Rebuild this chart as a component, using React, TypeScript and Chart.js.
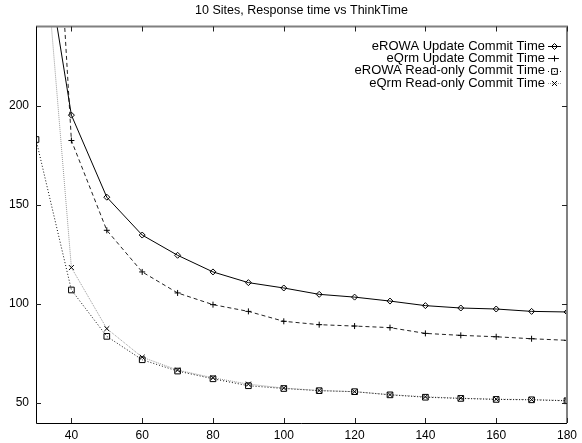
import React, { useEffect, useRef } from "react";
import { Chart, registerables } from "chart.js";
import { drawPoint } from "chart.js/helpers";

Chart.register(...registerables);

const titleText = "10 Sites, Response time vs ThinkTime";
const thinkTimes = [30, 40, 50, 60, 70, 80, 90, 100, 110, 120, 130, 140, 150, 160, 170, 180];
const erowaUpdate = [306, 195.3, 153.9, 134.8, 124.6, 116.2, 110.8, 108.1, 104.9, 103.5, 101.5, 99.2, 98.0, 97.5, 96.3, 96.0];
const eqrmUpdate = [486, 182.5, 137.2, 116.2, 105.6, 99.7, 96.3, 91.3, 89.6, 88.9, 88.1, 85.2, 84.2, 83.5, 82.5, 81.7];
const erowaReadOnly = [183.0, 107.1, 83.7, 71.9, 66.2, 62.3, 58.8, 57.4, 56.3, 55.8, 54.2, 53.0, 52.4, 51.9, 51.7, 51.2];
const eqrmReadOnly = [334, 118.4, 87.6, 73.2, 66.7, 62.8, 59.6, 57.6, 56.4, 55.8, 54.3, 53.2, 52.5, 52.0, 51.8, 51.3];
const seriesLabels = [
  "eROWA Update Commit Time",
  "eQrm Update Commit Time",
  "eROWA Read-only Commit Time",
  "eQrm Read-only Commit Time",
];
const xTickValues = [40, 60, 80, 100, 120, 140, 160, 180];
const yTickValues = [50, 100, 150, 200];

const FONT = "'Liberation Sans', Arial, Helvetica, sans-serif";

const toPoints = (ys: number[]) => thinkTimes.map((x, i) => ({ x, y: ys[i] }));

const framePlugin = {
  id: "gnuplotFrame",
  afterDraw(chart: any) {
    const { ctx, chartArea, scales } = chart;
    const { left, right, top, bottom } = chartArea;
    const xs = scales.x;
    const ys = scales.y;
    ctx.save();
    // frame
    ctx.setLineDash([]);
    ctx.strokeStyle = "#808080";
    ctx.lineWidth = 2;
    ctx.beginPath();
    ctx.moveTo(left, top);
    ctx.lineTo(right, top);
    ctx.lineTo(right, bottom);
    ctx.stroke();
    ctx.strokeStyle = "#000";
    ctx.lineWidth = 1;
    ctx.beginPath();
    ctx.moveTo(Math.round(left) + 0.5, top);
    ctx.lineTo(Math.round(left) + 0.5, Math.round(bottom) + 0.5);
    ctx.lineTo(right, Math.round(bottom) + 0.5);
    ctx.stroke();
    // inward ticks
    ctx.strokeStyle = "#222";
    ctx.beginPath();
    xTickValues.forEach((v) => {
      const px = Math.round(xs.getPixelForValue(v)) + 0.5;
      ctx.moveTo(px, bottom);
      ctx.lineTo(px, bottom - 5);
      ctx.moveTo(px, top);
      ctx.lineTo(px, top + 5);
    });
    yTickValues.forEach((v) => {
      const py = Math.round(ys.getPixelForValue(v)) + 0.5;
      ctx.moveTo(left, py);
      ctx.lineTo(left + 5, py);
      ctx.moveTo(right, py);
      ctx.lineTo(right - 5, py);
    });
    ctx.stroke();
    // legend
    ctx.font = "13px " + FONT;
    ctx.textAlign = "right";
    ctx.textBaseline = "middle";
    chart.data.datasets.forEach((ds: any, i: number) => {
      const y = 46 + i * 12.4;
      const ly = Math.round(y) + 0.5;
      ctx.fillStyle = "#000";
      ctx.fillText(ds.label, 545, y);
      ctx.strokeStyle = ds.borderColor;
      ctx.lineWidth = 1;
      ctx.setLineDash(ds.borderDash || []);
      ctx.beginPath();
      ctx.moveTo(548, ly);
      ctx.lineTo(561, ly);
      ctx.stroke();
      ctx.setLineDash([]);
      ctx.strokeStyle = ds.pointBorderColor;
      ctx.fillStyle = "rgba(0,0,0,0)";
      ctx.lineWidth = 1;
      drawPoint(ctx, { pointStyle: ds.pointStyle, radius: ds.pointRadius, borderWidth: 1, rotation: 0 }, 554.5, ly);
    });
    ctx.restore();
  },
};

export default function App() {
  const ref = useRef<HTMLCanvasElement>(null);
  useEffect(() => {
    document.body.style.margin = "0";
    const canvas = ref.current;
    if (!canvas) return;
    const chart = new Chart(canvas, {
      type: "scatter",
      data: {
        datasets: [
          {
            label: seriesLabels[0],
            data: toPoints(erowaUpdate),
            showLine: true,
            borderColor: "#000",
            borderWidth: 1,
            pointStyle: "rectRot",
            pointRadius: 3,
            pointBorderColor: "#000",
            pointBackgroundColor: "rgba(0,0,0,0)",
            pointBorderWidth: 1,
          },
          {
            label: seriesLabels[1],
            data: toPoints(eqrmUpdate),
            showLine: true,
            borderColor: "#222",
            borderWidth: 1,
            borderDash: [4, 3],
            pointStyle: "cross",
            pointRadius: 3,
            pointBorderColor: "#000",
            pointBackgroundColor: "rgba(0,0,0,0)",
            pointBorderWidth: 1,
          },
          {
            label: seriesLabels[2],
            data: toPoints(erowaReadOnly),
            showLine: true,
            borderColor: "#111",
            borderWidth: 1,
            borderDash: [1, 2],
            pointStyle: "rect",
            pointRadius: 4,
            pointBorderColor: "#000",
            pointBackgroundColor: "rgba(0,0,0,0)",
            pointBorderWidth: 1,
          },
          {
            label: seriesLabels[3],
            data: toPoints(eqrmReadOnly),
            showLine: true,
            borderColor: "#9a9a9a",
            borderWidth: 1,
            borderDash: [1, 1],
            pointStyle: "crossRot",
            pointRadius: 3.5,
            pointBorderColor: "#000",
            pointBackgroundColor: "rgba(0,0,0,0)",
            pointBorderWidth: 1,
          },
        ],
      },
      options: {
        responsive: false,
        animation: false,
        layout: { padding: { left: 0, right: 11, top: 0, bottom: 0 } },
        plugins: {
          legend: { display: false },
          tooltip: { enabled: false },
          title: {
            display: true,
            fullSize: false,
            text: titleText,
            color: "#000",
            font: { family: FONT, size: 12.5, weight: "normal" },
            padding: { top: 3, bottom: 8.5 },
          },
        },
        scales: {
          x: {
            type: "linear",
            min: 30,
            max: 180,
            grid: { display: false, drawTicks: false },
            border: { display: false },
            afterBuildTicks: (s: any) => {
              s.ticks = xTickValues.map((v) => ({ value: v }));
            },
            afterFit: (s: any) => {
              s.height = 20;
            },
            ticks: {
              color: "#000",
              padding: 5,
              maxRotation: 0,
              font: { family: FONT, size: 12 },
            },
          },
          y: {
            type: "linear",
            min: 40,
            max: 240,
            grid: { display: false, drawTicks: false },
            border: { display: false },
            afterBuildTicks: (s: any) => {
              s.ticks = yTickValues.map((v) => ({ value: v }));
            },
            afterFit: (s: any) => {
              s.width = 36;
            },
            ticks: {
              color: "#000",
              padding: 7,
              font: { family: FONT, size: 12 },
            },
          },
        },
      },
      plugins: [framePlugin],
    });
    return () => chart.destroy();
  }, []);
  return <canvas ref={ref} width={582} height={443} style={{ display: "block" }} />;
}
